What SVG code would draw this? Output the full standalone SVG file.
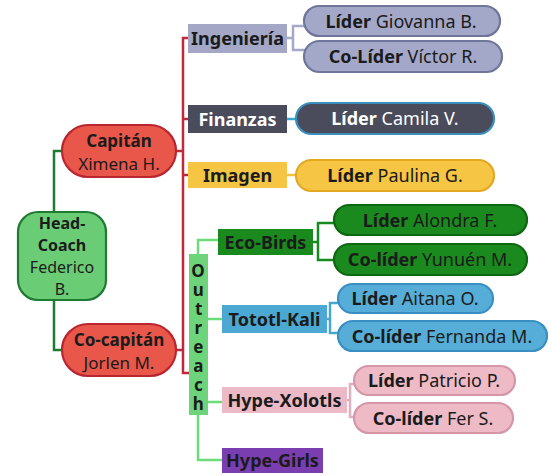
<svg xmlns="http://www.w3.org/2000/svg" width="553" height="475" viewBox="0 0 553 475">
<style>
text{font-family:"Noto Sans","Open Sans","DejaVu Sans",sans-serif;font-size:18px;fill:#1b1b1b;text-anchor:middle}
.b{font-weight:bold}
.w{fill:#ffffff}
.c{fill:none;stroke-width:2.5}
.pill{stroke-width:2.2}
.mid{font-size:17px}
.hc{font-size:16px}
.vert{writing-mode:vertical-rl;text-orientation:upright;font-size:17px;font-weight:bold;letter-spacing:-4px}
</style>
<rect width="553" height="475" fill="#ffffff"/>
<g id="connectors">
<path class="c" stroke="#1e7b32" d="M54,211V151H62M54,300V350H62"/>
<path class="c" stroke="#c0283c" d="M176,151H183M176,350H183M188,38H183V373H189M183,119H189M183,175H189"/>
<path class="c" stroke="#a5a8c6" d="M287,38H293M306,26H293V50H306"/>
<path class="c" stroke="#3aa9cc" d="M287,119H297"/>
<path class="c" stroke="#f0c040" d="M287,175H297"/>
<path class="c" stroke="#6cdc78" d="M198,255V240H219M208,319H223M208,402H223M198,414V460H223"/>
<path class="c" stroke="#168a20" d="M313,242H318M335,223H318V260H335"/>
<path class="c" stroke="#4aa6d0" d="M327,319H330M339,303H330V333H339"/>
<path class="c" stroke="#e0b0bf" d="M347,400H350M355,384H350V417H355"/>
</g>
<g id="head-coach">
<rect x="18" y="212" width="88" height="88" rx="20" fill="#6acd76" stroke="#1e7b32" class="pill"/>
<text x="62" y="229" class="hc"><tspan x="62" class="b">Head-</tspan><tspan x="62" dy="22" class="b">Coach</tspan><tspan x="62" dy="22">Federico</tspan><tspan x="62" dy="22">B.</tspan></text>
</g>
<g id="capitan">
<rect x="62" y="125" width="114" height="52" rx="26" fill="#e9574b" stroke="#b9262f" class="pill"/>
<text x="119" y="146.5" class="mid"><tspan x="119" class="b">Capitán</tspan><tspan x="119" dy="23.2">Ximena H.</tspan></text>
</g>
<g id="cocapitan">
<rect x="62" y="324" width="114" height="52" rx="26" fill="#e9574b" stroke="#b9262f" class="pill"/>
<text x="119" y="345.5" class="mid"><tspan x="119" class="b">Co-capitán</tspan><tspan x="119" dy="23.2">Jorlen M.</tspan></text>
</g>
<g id="ingenieria">
<rect x="188" y="24" width="99" height="29" fill="#a4a7c5"/>
<text x="237.5" y="45" class="b">Ingeniería</text>
</g>
<g id="lider-giovanna">
<rect x="304" y="6" width="196" height="30" rx="15" fill="#a4a8c8" stroke="#6f7699" class="pill"/>
<text x="401" y="27.5"><tspan class="b">Líder</tspan> Giovanna B.</text>
</g>
<g id="colider-victor">
<rect x="304" y="41" width="198" height="31" rx="15.5" fill="#a4a8c8" stroke="#6f7699" class="pill"/>
<text x="403" y="63"><tspan class="b">Co-Líder</tspan> Víctor R.</text>
</g>
<g id="finanzas">
<rect x="188" y="105" width="99" height="28" fill="#4a4b5b"/>
<text x="237.5" y="125.5" class="b w">Finanzas</text>
</g>
<g id="lider-camila">
<rect x="296" y="103" width="198" height="31" rx="15.5" fill="#4a4b5b" stroke="#3a90bd" class="pill"/>
<text x="395" y="125" class="w"><tspan class="b w">Líder</tspan> Camila V.</text>
</g>
<g id="imagen">
<rect x="188" y="162" width="99" height="26" fill="#f6c544"/>
<text x="237.5" y="181.5" class="b">Imagen</text>
</g>
<g id="lider-paulina">
<rect x="296" y="160" width="198" height="31" rx="15.5" fill="#f6c544" stroke="#e2a822" class="pill"/>
<text x="395" y="182"><tspan class="b">Líder</tspan> Paulina G.</text>
</g>
<g id="outreach">
<rect x="189" y="254" width="19" height="161" fill="#6dd47c"/>
<text x="198" y="334.5" class="vert">Outreach</text>
</g>
<g id="eco-birds">
<rect x="218" y="229" width="95" height="26" fill="#1a8a1e"/>
<text x="265.5" y="248.5" class="b">Eco-Birds</text>
</g>
<g id="lider-alondra">
<rect x="334" y="205" width="193" height="30" rx="15" fill="#1a8a1e" stroke="#0e6812" class="pill"/>
<text x="430" y="226.5"><tspan class="b">Líder</tspan> Alondra F.</text>
</g>
<g id="colider-yunuen">
<rect x="334" y="244" width="193" height="31" rx="15.5" fill="#1a8a1e" stroke="#0e6812" class="pill"/>
<text x="430" y="266"><tspan class="b">Co-líder</tspan> Yunuén M.</text>
</g>
<g id="tototl-kali">
<rect x="222" y="305" width="105" height="28" fill="#4aa8d2"/>
<text x="274.5" y="325.5" class="b">Tototl-Kali</text>
</g>
<g id="lider-aitana">
<rect x="338" y="284" width="155" height="29" rx="14.5" fill="#56aed8" stroke="#3a8fc2" class="pill"/>
<text x="415" y="305"><tspan class="b">Líder</tspan> Aitana O.</text>
</g>
<g id="colider-fernanda">
<rect x="338" y="321" width="209" height="30" rx="15" fill="#56aed8" stroke="#3a8fc2" class="pill"/>
<text x="442" y="342.5"><tspan class="b">Co-líder</tspan> Fernanda M.</text>
</g>
<g id="hype-xolotls">
<rect x="222" y="387" width="125" height="26" fill="#ebbac6"/>
<text x="284.5" y="406.5" class="b">Hype-Xolotls</text>
</g>
<g id="lider-patricio">
<rect x="354" y="366" width="161" height="29" rx="14.5" fill="#edbac6" stroke="#d596a8" class="pill"/>
<text x="434" y="387"><tspan class="b">Líder</tspan> Patricio P.</text>
</g>
<g id="colider-fer">
<rect x="354" y="403" width="159" height="30" rx="15" fill="#edbac6" stroke="#d596a8" class="pill"/>
<text x="433" y="424.5"><tspan class="b">Co-líder</tspan> Fer S.</text>
</g>
<g id="hype-girls">
<rect x="222" y="448" width="101" height="25" fill="#7a3eb1"/>
<text x="272.5" y="467" class="b">Hype-Girls</text>
</g>
</svg>
